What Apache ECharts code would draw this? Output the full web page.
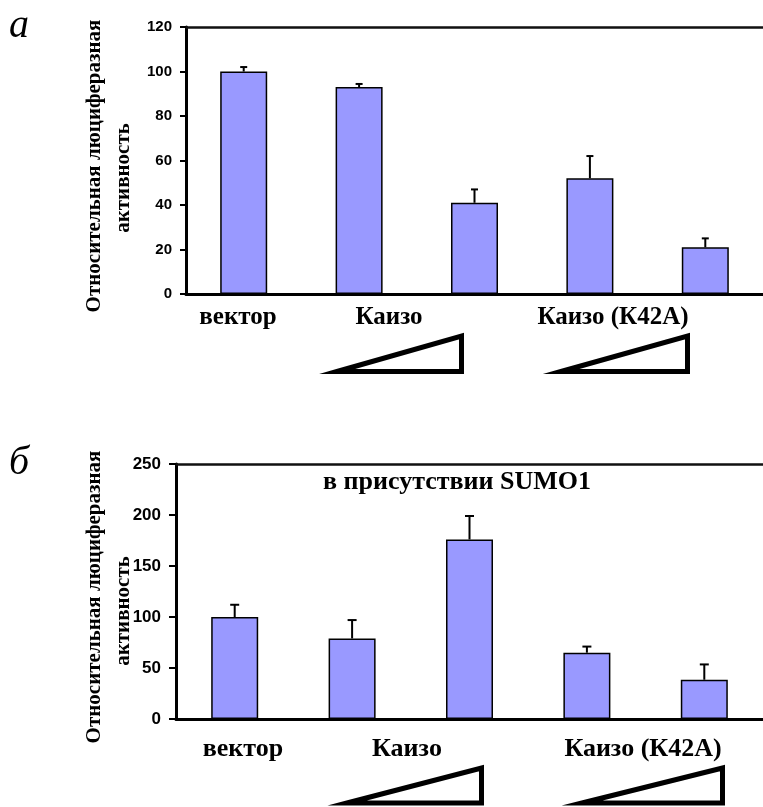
<!DOCTYPE html>
<html>
<head>
<meta charset="utf-8">
<script src="https://cdn.jsdelivr.net/npm/echarts@6/dist/echarts.min.js"></script>
<style>html,body{margin:0;padding:0;background:#fff}#c{width:763px;height:807px}</style>
</head>
<body>
<div id="c"></div>
<script>
// ---- data ----
var categories = ['вектор', 'Каизо (1)', 'Каизо (2)', 'Каизо (К42А) (1)', 'Каизо (К42А) (2)'];
var valuesA = [100, 93, 41, 52, 21];
var errorsA = [2, 1.4, 6, 10, 4];
var valuesB = [100, 79, 176, 65, 38.5];
var errorsB = [12, 18, 23, 6, 15];
var ticksA = [0, 20, 40, 60, 80, 100, 120];
var ticksB = [0, 50, 100, 150, 200, 250];
var groupLabels = ['вектор', 'Каизо', 'Каизо (К42А)'];
var yNameLines = ['Относительная люциферазная', 'активность'];
var panelLetters = ['а', 'б'];
var subtitleB = 'в присутствии SUMO1';

var BAR = '#9999FF';
var SERIF = '"Liberation Serif", "Times New Roman", serif';
var SANS = '"Liberation Sans", Arial, sans-serif';

var chart = echarts.init(document.getElementById('c'), null, {renderer: 'canvas'});

function errSeries(xi, yi, vals, errs, cap) {
  return {
    type: 'custom', xAxisIndex: xi, yAxisIndex: yi, z: 5,
    data: vals.map(function (v, i) { return [i, v, v + errs[i]]; }),
    renderItem: function (params, api) {
      var p0 = api.coord([api.value(0), api.value(1)]);
      var p1 = api.coord([api.value(0), api.value(2)]);
      var st = {stroke: '#000', lineWidth: 2};
      return {type: 'group', children: [
        {type: 'line', shape: {x1: p0[0], y1: p0[1], x2: p1[0], y2: p1[1]}, style: st},
        {type: 'line', shape: {x1: p1[0] - cap, y1: p1[1], x2: p1[0] + cap, y2: p1[1]}, style: st}
      ]};
    }
  };
}

function yAxisCfg(gi, max, interval, fs, margin, tickLen) {
  return {
    gridIndex: gi, type: 'value', min: 0, max: max, interval: interval,
    axisLine: {show: true, lineStyle: {color: '#000', width: 3}},
    axisTick: {show: true, length: tickLen, lineStyle: {color: '#000', width: 2}},
    splitLine: {show: false},
    axisLabel: {color: '#000', fontFamily: SANS, fontWeight: 'bold', fontSize: fs, margin: margin}
  };
}

function xAxisCfg(gi) {
  return {
    gridIndex: gi, type: 'category', data: categories,
    axisLine: {show: true, onZero: false, lineStyle: {color: '#000', width: 3}},
    axisTick: {show: false}, axisLabel: {show: false}
  };
}
function topAxisCfg(gi) {
  return {
    gridIndex: gi, type: 'category', data: categories, position: 'top',
    axisLine: {show: true, onZero: false, lineStyle: {color: '#111', width: 2.5}},
    axisTick: {show: false}, axisLabel: {show: false}
  };
}

function txt(x, y, text, font, opts) {
  opts = opts || {};
  return {
    type: 'text', x: x, y: y, rotation: opts.rotation || 0, z: 10,
    style: {text: text, font: font, fill: '#000', align: opts.align || 'center', verticalAlign: 'middle'}
  };
}
function tri(x0, x1, yTop, yBot) {
  return {
    type: 'polygon', z: 10,
    shape: {points: [[x0, yBot], [x1, yTop], [x1, yBot]]},
    style: {fill: '#fff', stroke: '#000', lineWidth: 5, lineJoin: 'miter', miterLimit: 10}
  };
}

var option = {
  animation: false,
  backgroundColor: '#fff',
  grid: [
    {left: 186, top: 27, width: 582, height: 267},
    {left: 176, top: 464, width: 590, height: 255}
  ],
  xAxis: [xAxisCfg(0), xAxisCfg(1), topAxisCfg(0), topAxisCfg(1)],
  yAxis: [
    yAxisCfg(0, ticksA[ticksA.length - 1], ticksA[1] - ticksA[0], 15, 14, 6),
    yAxisCfg(1, ticksB[ticksB.length - 1], ticksB[1] - ticksB[0], 17, 15, 7)
  ],
  series: [
    {type: 'bar', xAxisIndex: 0, yAxisIndex: 0, data: valuesA, barWidth: 47,
     itemStyle: {color: BAR, borderColor: '#000', borderWidth: 1.5}},
    {type: 'bar', xAxisIndex: 1, yAxisIndex: 1, data: valuesB, barWidth: 47,
     itemStyle: {color: BAR, borderColor: '#000', borderWidth: 1.5}},
    errSeries(0, 0, valuesA, errorsA, 3.5),
    errSeries(1, 1, valuesB, errorsB, 4.5)
  ],
  graphic: [
    txt(9, 26, panelLetters[0], 'italic 40px ' + SERIF, {align: 'left'}),
    txt(9, 463, panelLetters[1], 'italic 40px ' + SERIF, {align: 'left'}),
    txt(95, 166, yNameLines[0], 'bold 21px ' + SERIF, {rotation: Math.PI / 2}),
    txt(124, 178, yNameLines[1], 'bold 21px ' + SERIF, {rotation: Math.PI / 2}),
    txt(95, 597, yNameLines[0], 'bold 21px ' + SERIF, {rotation: Math.PI / 2}),
    txt(124, 611, yNameLines[1], 'bold 21px ' + SERIF, {rotation: Math.PI / 2}),
    txt(238, 318, groupLabels[0], 'bold 25px ' + SERIF),
    txt(389, 318, groupLabels[1], 'bold 25px ' + SERIF),
    txt(613, 318, groupLabels[2], 'bold 25px ' + SERIF),
    txt(243, 749, groupLabels[0], 'bold 26px ' + SERIF),
    txt(407, 749, groupLabels[1], 'bold 26px ' + SERIF),
    txt(643, 749, groupLabels[2], 'bold 26px ' + SERIF),
    txt(457, 482, subtitleB, 'bold 26px ' + SERIF),
    tri(337, 461.5, 336, 371.5),
    tri(561, 687.5, 336, 371.5),
    tri(347, 481.5, 768, 803),
    tri(582, 722.5, 768, 803)
  ]
};
chart.setOption(option);
</script>
</body>
</html>
